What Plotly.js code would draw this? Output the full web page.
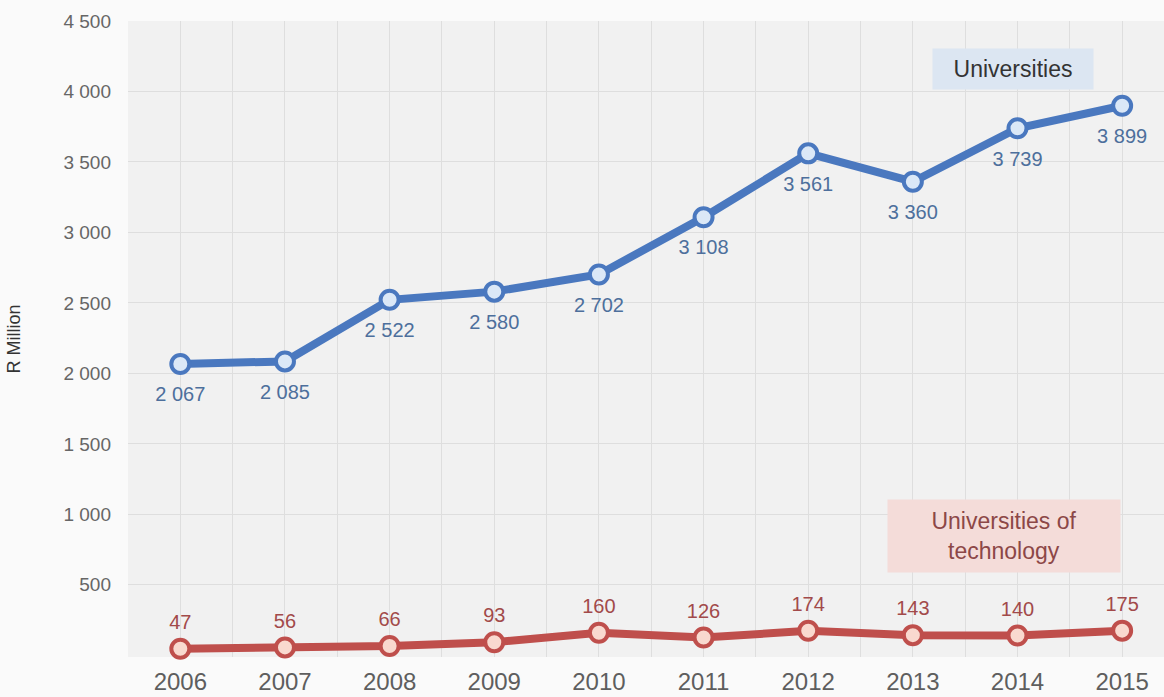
<!DOCTYPE html>
<html>
<head>
<meta charset="utf-8">
<script src="https://cdn.plot.ly/plotly-3.0.1.min.js"></script>
<style>html,body{margin:0;padding:0;background:#fafafa;}#chart{width:1164px;height:697px;}</style>
</head>
<body>
<div id="chart"></div>
<script>
const years = [2006, 2007, 2008, 2009, 2010, 2011, 2012, 2013, 2014, 2015];
const universities = [2067, 2085, 2522, 2580, 2702, 3108, 3561, 3360, 3739, 3899];
const universitiesOfTechnology = [47, 56, 66, 93, 160, 126, 174, 143, 140, 175];
const yTicks = [500, 1000, 1500, 2000, 2500, 3000, 3500, 4000, 4500];

function fmt(v) { return String(v).replace(/\B(?=(\d{3})+(?!\d))/g, ' '); }

const FONT = 'Liberation Sans, Arial, sans-serif';
const BLUE = '#4a78bf', RED = '#bf4f4c';

const traces = [
  {
    x: years, y: universities, type: 'scatter', mode: 'lines+markers',
    line: {color: BLUE, width: 8},
    marker: {size: 18, color: '#dbe8f7', line: {color: BLUE, width: 4}},
    cliponaxis: false, hoverinfo: 'x+y'
  },
  {
    x: years, y: universitiesOfTechnology, type: 'scatter', mode: 'lines+markers',
    line: {color: RED, width: 8},
    marker: {size: 18, color: '#f9d9cf', line: {color: RED, width: 4}},
    cliponaxis: false, hoverinfo: 'x+y'
  },
  {
    x: years, y: universities, type: 'scatter', mode: 'markers+text',
    text: universities.map(fmt), textposition: 'bottom center',
    textfont: {family: FONT, size: 20, color: '#4d6f9c'},
    marker: {size: 34, color: 'rgba(0,0,0,0)'},
    cliponaxis: false, hoverinfo: 'skip'
  },
  {
    x: years, y: universitiesOfTechnology, type: 'scatter', mode: 'markers+text',
    text: universitiesOfTechnology.map(fmt), textposition: 'top center',
    textfont: {family: FONT, size: 20, color: '#a24a4a'},
    marker: {size: 22, color: 'rgba(0,0,0,0)'},
    cliponaxis: false, hoverinfo: 'skip'
  }
];

const layout = {
  width: 1164, height: 697,
  margin: {l: 128, r: 0, t: 21, b: 40},
  paper_bgcolor: '#fafafa', plot_bgcolor: '#f1f1f1',
  showlegend: false,
  font: {family: FONT, color: '#666'},
  xaxis: {
    range: [2005.5, 2015.4], tickvals: years, ticktext: years.map(String),
    showgrid: true, gridcolor: '#dedede', gridwidth: 1,
    minor: {dtick: 0.5, tick0: 2005.5, showgrid: true, gridcolor: '#dedede', gridwidth: 1},
    tickfont: {size: 24, color: '#5e5e5e'}, ticks: '', ticklabelstandoff: 8,
    zeroline: false, showline: false
  },
  yaxis: {
    range: [-12, 4500], tickvals: yTicks, ticktext: yTicks.map(fmt),
    showgrid: true, gridcolor: '#dedede', gridwidth: 1,
    tickfont: {size: 19, color: '#666'}, ticks: '', ticklabelstandoff: 16,
    zeroline: false, showline: false,
    title: {text: 'R Million', font: {size: 18, color: '#333'}, standoff: 38}
  },
  annotations: [
    {x: 2013.96, y: 4158, xref: 'x', yref: 'y', text: 'Universities', showarrow: false,
     bgcolor: '#dce6f2', width: 150, height: 30, borderpad: 5,
     font: {family: FONT, size: 23, color: '#333'}},
    {x: 2013.87, y: 848, xref: 'x', yref: 'y', text: 'Universities of<br>technology', showarrow: false,
     bgcolor: '#f4dcd9', width: 222, height: 62, borderpad: 5,
     font: {family: FONT, size: 23, color: '#8c4747'}}
  ]
};

Plotly.newPlot('chart', traces, layout, {displayModeBar: false, staticPlot: true});
</script>
</body>
</html>
